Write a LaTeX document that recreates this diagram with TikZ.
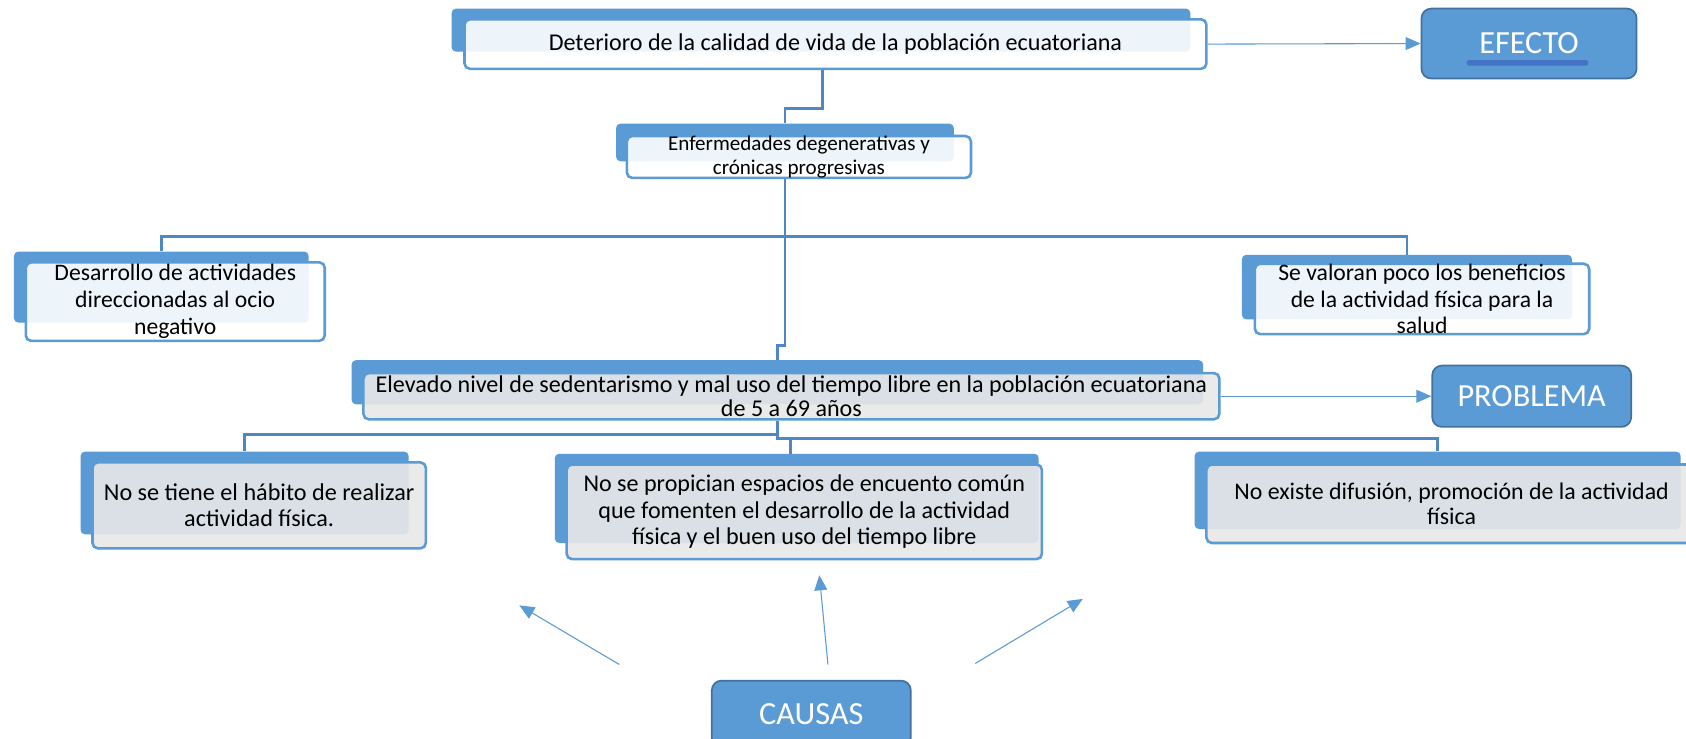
\documentclass[tikz,border=0pt]{standalone}
\usepackage{fontspec}
\setmainfont{Carlito}
\usetikzlibrary{arrows.meta}
\definecolor{bl}{HTML}{5B9BD5}
\definecolor{bld}{HTML}{41719C}
\definecolor{ln}{HTML}{4F86C6}
\definecolor{gr}{HTML}{E8E8E8}
\definecolor{ul}{HTML}{4472C4}
\newcommand{\fz}[2]{\fontsize{#1}{#2}\selectfont}
\begin{document}
\begin{tikzpicture}[x=1pt,y=-1pt,
 backbox/.style={fill=bl, rounded corners=4pt, inner sep=0pt},
 frontw/.style={draw=bl, line width=2.4pt, fill=white, fill opacity=0.9, text opacity=1, rounded corners=5pt, inner sep=0pt, align=center},
 frontg/.style={frontw, fill=gr},
 tag/.style={draw=bld, line width=1.6pt, fill=bl, rounded corners=9pt, text=white, inner sep=0pt, font=\fz{30}{34}},
 conn/.style={draw=ln, line width=2.5pt},
 arr/.style={draw=bl, line width=1pt, -{Triangle[length=14pt,width=12pt]}},
]
\fill[white] (0,0) rectangle (1568,687);
\useasboundingbox (0,0) rectangle (1568,687);

% top effect box
\node[backbox, minimum width=687pt, minimum height=40pt] (topB) at (763.5,28) {};
\node[frontw, minimum width=690pt, minimum height=46pt, font=\fz{22.4}{26}] (top) at (777,41) {Deterioro de la calidad de vida de la población ecuatoriana};

\node[tag, minimum width=200pt, minimum height=65pt] (efecto) at (1422,40.5) {EFECTO};
\fill[ul, rounded corners=2pt] (1364,56) rectangle (1477,61);

% Enfermedades
\node[backbox, minimum width=314pt, minimum height=35pt] (enfB) at (730,132.5) {};
\node[frontw, minimum width=320pt, minimum height=38pt, font=\fz{19.6}{22}] (enf) at (743,146) {Enfermedades degenerativas y\\crónicas progresivas};

% Desarrollo
\node[backbox, minimum width=274pt, minimum height=66pt] (desB) at (150,267) {};
\node[frontw, minimum width=278pt, minimum height=73pt, font=\fz{22}{25}] (des) at (163,280.5) {Desarrollo de actividades\\direccionadas al ocio\\negativo};

% Se valoran
\node[backbox, minimum width=307pt, minimum height=60pt] (sevB) at (1308.5,267) {};
\node[frontw, minimum width=311pt, minimum height=60pt, font=\fz{22}{25}] (sev) at (1322.5,278) {Se valoran poco los beneficios\\de la actividad física para la\\salud};

% Elevado
\node[backbox, minimum width=792pt, minimum height=41pt] (elevB) at (723,355.5) {};
\node[frontg, minimum width=796pt, minimum height=43pt, font=\fz{22.4}{23}] (elev) at (736,368.5) {Elevado nivel de sedentarismo y mal uso del tiempo libre en la población ecuatoriana\\de 5 a 69 años};

\node[tag, minimum width=185pt, minimum height=57pt] (prob) at (1424.5,368.5) {PROBLEMA};

% causes
\node[backbox, minimum width=305pt, minimum height=77pt] (c1B) at (227.5,458.5) {};
\node[frontg, minimum width=310pt, minimum height=80pt, font=\fz{22.5}{24}] (c1) at (241,470) {No se tiene el hábito de realizar\\actividad física.};

\node[backbox, minimum width=450pt, minimum height=83pt] (c2B) at (741,463.5) {};
\node[frontg, minimum width=442pt, minimum height=88pt, font=\fz{22.4}{24.5}] (c2) at (748,476) {No se propician espacios de encuento común\\que fomenten el desarrollo de la actividad\\física y el buen uso del tiempo libre};

\node[backbox, minimum width=452pt, minimum height=72pt] (c3B) at (1337,456) {};
\node[frontg, minimum width=456pt, minimum height=73pt, font=\fz{22.2}{24}] (c3) at (1350,468.5) {No existe difusión, promoción de la actividad\\física};

\node[tag, minimum width=185pt, minimum height=62pt] (causas) at (754.5,664) {CAUSAS};

% connectors
\coordinate (br) at (730,220);
\coordinate (jg) at (730,321);
\coordinate (lb) at (723,404);
\coordinate (rb) at (723,408);
\coordinate (mb) at (735,408);
\draw[conn] ([xshift=-12pt]top.south) |- (730,101) -- (enfB.north);
\draw[conn] (enf.south -| enfB.north) -- (br);
\draw[conn] (desB.north) |- (br) -| (sevB.north);
\draw[conn] (br) -- (jg) -| (elevB.north);
\draw[conn] (elevB.south |- elev.south) -- (rb) -- (mb);
\draw[conn] (c1B.north) |- (lb);
\draw[conn] (mb) -- (735,422);
\draw[conn] (mb) -| (c3B.north);

% arrows
\draw[arr] (top.east) -- (efecto.west);
\draw[arr] (elev.east) -- (prob.west);
\coordinate (s1) at (576,618); \coordinate (e1) at (483,563);
\coordinate (s2) at (770,618); \coordinate (e2) at (762,535);
\coordinate (s3) at (907,617); \coordinate (e3) at (1007,557);
\draw[arr] (s1) -- (e1);
\draw[arr] (s2) -- (e2);
\draw[arr] (s3) -- (e3);
\end{tikzpicture}
\end{document}
